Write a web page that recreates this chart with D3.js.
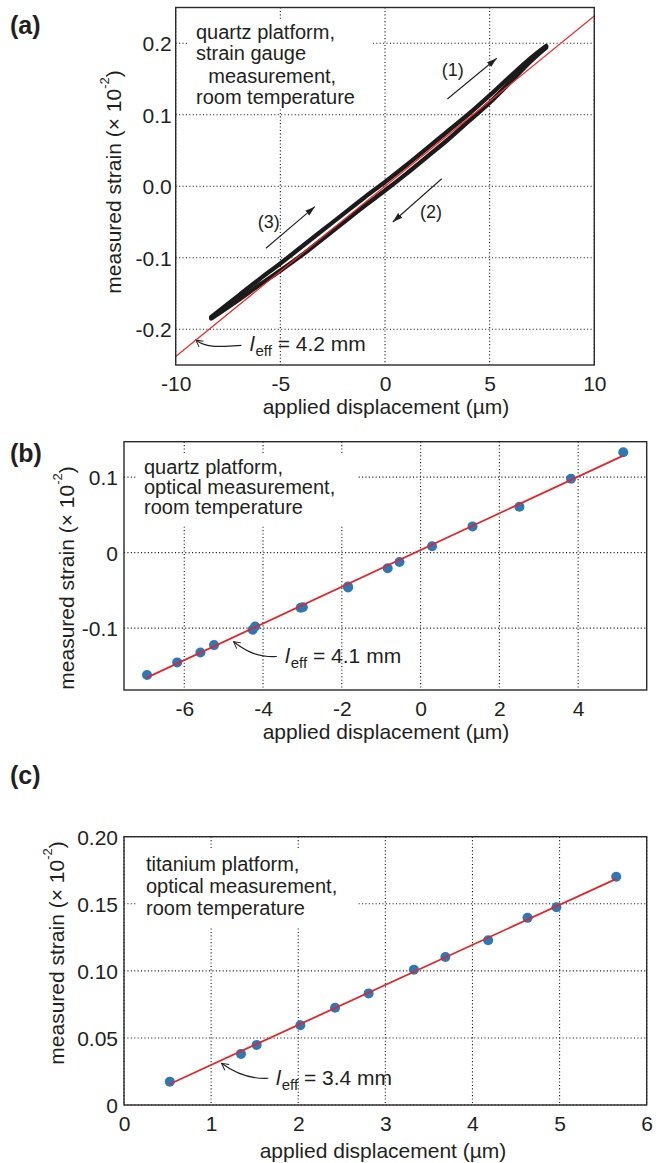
<!DOCTYPE html>
<html><head><meta charset="utf-8">
<script src="https://cdn.jsdelivr.net/npm/d3@7"></script>
<style>
body{margin:0;background:#fff}
text{font-family:"Liberation Sans",Arial,Helvetica,sans-serif;fill:#231f20}
</style>
</head><body>
<svg id="chart" width="665" height="1163"></svg>
<script>
// ---------------- data ----------------
// panel (a): quartz platform, strain gauge
const aXTicks = [-10, -5, 0, 5, 10];
const aXTickLabels = ["-10", "-5", "0", "5", "10"];
const aYTicks = [-0.2, -0.1, 0.0, 0.1, 0.2];
const aYTickLabels = ["-0.2", "-0.1", "0.0", "0.1", "0.2"];
const aFitX = [-10, 10];
const aFitY = [-0.238, 0.238];
const aLoopX    = [-8.3, -7, -6, -5, -4, -3, -2, -1, 0, 1, 2, 3, 4, 5, 6, 7, 7.7];
const aLoopUp   = [-0.183, -0.153, -0.130, -0.108, -0.085, -0.062, -0.039, -0.016, 0.006, 0.029, 0.053, 0.077, 0.101, 0.127, 0.154, 0.180, 0.196];
const aLoopDown = [-0.185, -0.159, -0.138, -0.118, -0.097, -0.074, -0.051, -0.028, -0.006, 0.017, 0.041, 0.065, 0.091, 0.117, 0.146, 0.176, 0.194];

// panel (b): quartz platform, optical
const bXTicks = [-6, -4, -2, 0, 2, 4];
const bXTickLabels = ["-6", "-4", "-2", "0", "2", "4"];
const bYTicks = [-0.1, 0, 0.1];
const bYTickLabels = ["-0.1", "0", "0.1"];
const bPointsX = [-6.945, -6.18, -5.59, -5.245, -4.264, -4.20, -3.045, -2.99, -1.845, -1.84, -0.836, -0.536, 0.291, 1.318, 2.509, 3.818, 5.145];
const bPointsY = [-0.1621, -0.1454, -0.1322, -0.1225, -0.1022, -0.0978, -0.0731, -0.0722, -0.0449, -0.0462, -0.0207, -0.0123, 0.0084, 0.0348, 0.0608, 0.0978, 0.1330];
const bFitX = [-6.95, 5.145];
const bFitY = [-0.1656, 0.1286];

// panel (c): titanium platform, optical
const cXTicks = [0, 1, 2, 3, 4, 5, 6];
const cXTickLabels = ["0", "1", "2", "3", "4", "5", "6"];
const cYTicks = [0, 0.05, 0.10, 0.15, 0.20];
const cYTickLabels = ["0", "0.05", "0.10", "0.15", "0.20"];
const cPointsX = [0.526, 1.343, 1.523, 2.024, 2.423, 2.808, 3.328, 3.689, 4.18, 4.632, 4.964, 5.65];
const cPointsY = [0.0174, 0.0381, 0.0448, 0.0595, 0.0725, 0.0832, 0.1009, 0.1103, 0.1228, 0.1395, 0.1474, 0.1701];
const cFitX = [0.52, 5.65];
const cFitY = [0.0155, 0.1686];

// ---------------- drawing ----------------
const svg = d3.select("#chart");
const INK = "#231f20";
const RED = "#e3262b";
const BLUE = "#2b79b9";
const FS = 21;
const DFS = 20;

const defs = svg.append("defs");
defs.append("marker").attr("id", "arrF")
  .attr("viewBox", "0 0 10 8").attr("refX", 10).attr("refY", 4)
  .attr("markerWidth", 10).attr("markerHeight", 8)
  .attr("markerUnits", "userSpaceOnUse").attr("orient", "auto")
  .append("path").attr("d", "M0,0.8 L10,4 L0,7.2 Z").attr("fill", INK);
defs.append("marker").attr("id", "arrO")
  .attr("viewBox", "0 0 10 10").attr("refX", 9).attr("refY", 5)
  .attr("markerWidth", 9).attr("markerHeight", 9)
  .attr("markerUnits", "userSpaceOnUse").attr("orient", "auto")
  .append("path").attr("d", "M1.5,1 L9,5 L1.5,9").attr("fill", "none")
  .attr("stroke", INK).attr("stroke-width", 1.1);

function makePanel(cfg) {
  const g = svg.append("g");
  const x = d3.scaleLinear().domain(cfg.xDomain).range([cfg.left, cfg.right]);
  const y = d3.scaleLinear().domain(cfg.yDomain).range([cfg.bottom, cfg.top]);

  // grid (dotted)
  const grid = g.append("g").attr("stroke", "#1e1e1e").attr("stroke-width", 1.1)
    .attr("stroke-dasharray", "1.1,2.3");
  grid.selectAll("line.v").data(cfg.xTicks).join("line")
    .attr("x1", d => x(d)).attr("x2", d => x(d))
    .attr("y1", cfg.top).attr("y2", cfg.bottom);
  grid.selectAll("line.h").data(cfg.yTicks).join("line")
    .attr("class", "h")
    .attr("y1", d => y(d)).attr("y2", d => y(d))
    .attr("x1", cfg.left).attr("x2", cfg.right);

  // white box behind the description text
  g.append("rect").attr("x", cfg.mask[0]).attr("y", cfg.mask[1])
    .attr("width", cfg.mask[2]).attr("height", cfg.mask[3]).attr("fill", "#fff");

  // tick labels via axes (no tick marks)
  const xAxis = d3.axisBottom(x).tickValues(cfg.xTicks)
    .tickFormat((d, i) => cfg.xTickLabels[i]).tickSize(0).tickPadding(0);
  const gx = g.append("g").attr("transform", `translate(0,${cfg.bottom})`).call(xAxis);
  gx.select(".domain").remove();
  gx.selectAll("text").attr("font-size", FS).attr("font-family", null)
    .attr("fill", INK).attr("dy", null).attr("y", 18)
    .attr("dominant-baseline", "central");

  const yAxis = d3.axisLeft(y).tickValues(cfg.yTicks)
    .tickFormat((d, i) => cfg.yTickLabels[i]).tickSize(0).tickPadding(0);
  const gy = g.append("g").attr("transform", `translate(${cfg.left},0)`).call(yAxis);
  gy.select(".domain").remove();
  gy.selectAll("text").attr("font-size", FS).attr("font-family", null)
    .attr("fill", INK).attr("dy", null).attr("x", -cfg.yLabPad)
    .attr("dominant-baseline", "central");

  // axis titles
  g.append("text").attr("x", cfg.xTitle[0]).attr("y", cfg.xTitle[1])
    .attr("text-anchor", "middle").attr("dominant-baseline", "central")
    .attr("font-size", FS).text("applied displacement (µm)");
  const yt = g.append("text")
    .attr("transform", `translate(${cfg.yTitle[0]},${cfg.yTitle[1]}) rotate(-90)`)
    .attr("text-anchor", "middle").attr("dominant-baseline", "central")
    .attr("font-size", FS);
  yt.append("tspan").text("measured strain (× 10");
  yt.append("tspan").attr("font-size", 13).attr("dy", -9).text("-2");
  yt.append("tspan").attr("dy", 9).text(")");

  // description text
  const desc = g.append("g");
  cfg.desc.forEach(dl => {
    desc.append("text").attr("x", dl[1]).attr("y", dl[2])
      .attr("dominant-baseline", "central").attr("font-size", DFS).text(dl[0]);
  });

  // panel letter
  g.append("text").attr("x", 10).attr("y", cfg.letterY)
    .attr("dominant-baseline", "central").attr("font-size", 25)
    .attr("font-weight", "bold").text(cfg.letter);

  // l_eff annotation
  const hx = x(cfg.leff.head[0]), hy = y(cfg.leff.head[1]);
  const tx = x(cfg.leff.tail[0]), ty = y(cfg.leff.tail[1]);
  g.append("path")
    .attr("d", `M${tx},${ty} C${tx - 20},${ty + 1} ${hx + 12},${hy + 9} ${hx},${hy}`)
    .attr("fill", "none").attr("stroke", INK).attr("stroke-width", 1.1)
    .attr("marker-end", "url(#arrO)");
  const lt = g.append("text").attr("x", x(cfg.leff.text[0])).attr("y", y(cfg.leff.text[1]))
    .attr("font-size", FS);
  lt.append("tspan").attr("font-style", "italic").text("l");
  lt.append("tspan").attr("font-size", 15).attr("dy", 5).attr("dx", 1).text("eff");
  lt.append("tspan").attr("dy", -5).text(" = " + cfg.leff.label);

  return {g, x, y};
}

// ---------- panel (a) ----------
const A = makePanel({
  letter: "(a)", letterY: 25,
  left: 175.7, right: 594.3, top: 7.5, bottom: 365,
  xDomain: [-10, 10], yDomain: [-0.25, 0.25],
  xTicks: aXTicks, xTickLabels: aXTickLabels, yTicks: aYTicks, yTickLabels: aYTickLabels,
  yLabPad: 4,
  mask: [187, 20, 185, 88],
  xTitle: [386, 406.7], yTitle: [113.3, 182],
  desc: [["quartz platform,", 196, 31.7], ["strain gauge", 196, 53.3],
         ["measurement,", 208.3, 76], ["room temperature", 196, 96.7]],
  leff: {head: [-9.04, -0.215], tail: [-6.86, -0.2225], text: [-6.46, -0.2305], label: "4.2 mm"}
});
{
  const {g, x, y} = A;
  const loop = d3.line().curve(d3.curveCatmullRom.alpha(0.5));
  const upPts = aLoopX.map((d, i) => [x(d), y(aLoopUp[i])]);
  const dnPts = aLoopX.map((d, i) => [x(d), y(aLoopDown[i])]);
  [upPts, dnPts].forEach(p => {
    g.append("path").attr("d", loop(p)).attr("fill", "none")
      .attr("stroke", "#1b1b1b").attr("stroke-width", 4.4)
      .attr("stroke-linecap", "round").attr("stroke-linejoin", "round");
  });
  g.append("line")
    .attr("x1", x(aFitX[0])).attr("y1", y(aFitY[0]))
    .attr("x2", x(aFitX[1])).attr("y2", y(aFitY[1]))
    .attr("stroke", "#f0282a").attr("stroke-width", 1.2);

  // direction arrows
  const arrows = [
    {from: [2.98, 0.122], to: [5.34, 0.179], lab: "(1)", at: [3.24, 0.163]},
    {from: [2.71, 0.0105], to: [0.37, -0.050], lab: "(2)", at: [2.2, -0.036]},
    {from: [-5.69, -0.0867], to: [-3.35, -0.0286], lab: "(3)", at: [-5.55, -0.050]}
  ];
  arrows.forEach(a => {
    g.append("line").attr("x1", x(a.from[0])).attr("y1", y(a.from[1]))
      .attr("x2", x(a.to[0])).attr("y2", y(a.to[1]))
      .attr("stroke", INK).attr("stroke-width", 1.1).attr("marker-end", "url(#arrF)");
    g.append("text").attr("x", x(a.at[0])).attr("y", y(a.at[1]))
      .attr("text-anchor", "middle").attr("dominant-baseline", "central")
      .attr("font-size", 18).text(a.lab);
  });
  g.append("rect").attr("x", 175.7).attr("y", 7.5).attr("width", 594.3 - 175.7)
    .attr("height", 365 - 7.5).attr("fill", "none").attr("stroke", "#2a2a2a").attr("stroke-width", 1.4);
}

// ---------- panel (b) ----------
const B = makePanel({
  letter: "(b)", letterY: 453,
  left: 124, right: 646.7, top: 441.7, bottom: 690,
  xDomain: [-7.53, 5.74], yDomain: [-0.182, 0.147],
  xTicks: bXTicks, xTickLabels: bXTickLabels, yTicks: bYTicks, yTickLabels: bYTickLabels,
  yLabPad: 6,
  mask: [137, 455, 221, 70],
  xTitle: [386, 731.7], yTitle: [66, 578],
  desc: [["quartz platform,", 144, 466.7], ["optical measurement,", 144, 486.9],
         ["room temperature", 144, 507.3]],
  leff: {head: [-4.75, -0.118], tail: [-3.65, -0.1377], text: [-3.44, -0.1465], label: "4.1 mm"}
});
{
  const {g, x, y} = B;
  g.append("g").selectAll("circle").data(bPointsX).join("circle")
    .attr("cx", d => x(d)).attr("cy", (d, i) => y(bPointsY[i]))
    .attr("r", 5).attr("fill", BLUE);
  g.append("line")
    .attr("x1", x(bFitX[0])).attr("y1", y(bFitY[0]))
    .attr("x2", x(bFitX[1])).attr("y2", y(bFitY[1]))
    .attr("stroke", RED).attr("stroke-width", 1.8);
  g.append("rect").attr("x", 124).attr("y", 441.7).attr("width", 646.7 - 124)
    .attr("height", 690 - 441.7).attr("fill", "none").attr("stroke", "#2a2a2a").attr("stroke-width", 1.4);
}

// ---------- panel (c) ----------
const C = makePanel({
  letter: "(c)", letterY: 775,
  left: 124, right: 646.7, top: 836.7, bottom: 1105,
  xDomain: [0, 6], yDomain: [0, 0.2],
  xTicks: cXTicks, xTickLabels: cXTickLabels, yTicks: cYTicks, yTickLabels: cYTickLabels,
  yLabPad: 6,
  mask: [137, 849, 221, 78],
  xTitle: [383, 1150], yTitle: [56, 953],
  desc: [["titanium platform,", 146, 864], ["optical measurement,", 146, 886.3],
         ["room temperature", 146, 907.5]],
  leff: {head: [1.12, 0.0311], tail: [1.657, 0.0199], text: [1.745, 0.0149], label: "3.4 mm"}
});
{
  const {g, x, y} = C;
  g.append("g").selectAll("circle").data(cPointsX).join("circle")
    .attr("cx", d => x(d)).attr("cy", (d, i) => y(cPointsY[i]))
    .attr("r", 5).attr("fill", BLUE);
  g.append("line")
    .attr("x1", x(cFitX[0])).attr("y1", y(cFitY[0]))
    .attr("x2", x(cFitX[1])).attr("y2", y(cFitY[1]))
    .attr("stroke", RED).attr("stroke-width", 1.8);
  g.append("rect").attr("x", 124).attr("y", 836.7).attr("width", 646.7 - 124)
    .attr("height", 1105 - 836.7).attr("fill", "none").attr("stroke", "#2a2a2a").attr("stroke-width", 1.4);
}
</script>
</body></html>
